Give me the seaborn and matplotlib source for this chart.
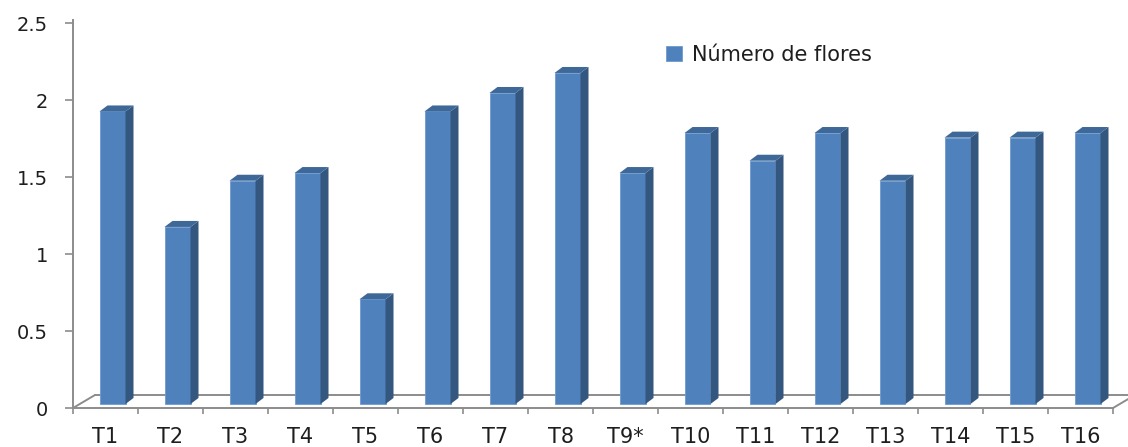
import matplotlib
matplotlib.use("Agg")
import matplotlib.pyplot as plt
import seaborn as sns
import pandas as pd
from matplotlib.patches import Polygon
from matplotlib.lines import Line2D
from matplotlib.transforms import ScaledTranslation, IdentityTransform

# Data
tratamientos = ["T1", "T2", "T3", "T4", "T5", "T6", "T7", "T8",
                "T9*", "T10", "T11", "T12", "T13", "T14", "T15", "T16"]
numero_flores = [1.90, 1.15, 1.45, 1.50, 0.68, 1.90, 2.02, 2.15,
                 1.50, 1.76, 1.58, 1.76, 1.45, 1.73, 1.73, 1.76]
serie = "Número de flores"
y_ticks = [0, 0.5, 1, 1.5, 2, 2.5]

# Styling
FRONT = "#4F81BD"
SIDE = "#34577F"
TOP = "#3E6898"
AXIS_GREY = "#8C8C8C"
TEXT = "#1E1E1E"

sns.set_theme(style="white")
plt.rcParams["font.family"] = ["DejaVu Sans"]

W, H, DPI = 1128, 447, 100
fig = plt.figure(figsize=(W / DPI, H / DPI), dpi=DPI)
fig.patch.set_facecolor("white")
ax = fig.add_axes([73 / W, 1 - 408 / H, (1113 - 73) / W, (408 - 20) / H])

df = pd.DataFrame({"Tratamiento": tratamientos,
                   "Flores": numero_flores,
                   "Serie": serie})
sns.barplot(data=df, x="Tratamiento", y="Flores", hue="Serie",
            palette=[FRONT], saturation=1, width=0.4, ax=ax,
            linewidth=0.6, edgecolor="#6E9AD0", zorder=2)

ax.set_xlim(-0.5, len(tratamientos) - 0.5)
ax.set_ylim(0, 2.52)
ax.set_xlabel("")
ax.set_ylabel("")

# Bars stand in the middle of the floor depth: shift front faces back/up
shift = ScaledTranslation(7 / DPI, 4 / DPI, fig.dpi_scale_trans)
depth_dx, depth_dy = 8, 6
bars = list(ax.containers[0])
for bar in bars:
    bar.set_transform(ax.transData + shift)
    bar.set_clip_on(False)

fig.canvas.draw()
for bar in bars:
    bb = bar.get_window_extent()
    x0, y0, x1, y1 = bb.x0, bb.y0, bb.x1, bb.y1
    side = Polygon([(x1, y0), (x1 + depth_dx, y0 + depth_dy),
                    (x1 + depth_dx, y1 + depth_dy), (x1, y1)],
                   closed=True, facecolor=SIDE, edgecolor="none",
                   transform=IdentityTransform(), clip_on=False, zorder=2)
    top = Polygon([(x0, y1), (x1, y1), (x1 + depth_dx, y1 + depth_dy),
                   (x0 + depth_dx, y1 + depth_dy)],
                  closed=True, facecolor=TOP, edgecolor="none",
                  transform=IdentityTransform(), clip_on=False, zorder=2)
    ax.add_artist(side)
    ax.add_artist(top)

# Floor outline (3D base plane), drawn behind the bars
ab = ax.get_window_extent()
fdx, fdy = 22, 13
floor_lines = [
    [(ab.x0, ab.y0), (ab.x0 + fdx, ab.y0 + fdy)],
    [(ab.x0 + fdx, ab.y0 + fdy), (ab.x1 + fdx, ab.y0 + fdy)],
    [(ab.x1, ab.y0), (ab.x1 + fdx, ab.y0 + fdy)],
]
for seg in floor_lines:
    (xa, ya), (xb, yb) = seg
    ln = Line2D([xa, xb], [ya, yb], color=AXIS_GREY, linewidth=1.4,
                transform=IdentityTransform(), clip_on=False, zorder=0.5)
    ax.add_artist(ln)

# Spines
for s in ["top", "right"]:
    ax.spines[s].set_visible(False)
for s in ["left", "bottom"]:
    ax.spines[s].set_color(AXIS_GREY)
    ax.spines[s].set_linewidth(1.4)

# Y axis ticks
ax.set_yticks(y_ticks)
ax.set_yticklabels([f"{v:g}" for v in y_ticks])
ax.tick_params(axis="y", left=True, length=6, width=1.2, color=AXIS_GREY,
               direction="out", pad=12, labelsize=14, labelcolor=TEXT)

# X axis: labels at category centres, ticks at category boundaries
ax.set_xticks(range(len(tratamientos)))
ax.set_xticklabels(tratamientos)
ax.set_xticks([i - 0.5 for i in range(len(tratamientos) + 1)], minor=True)
ax.tick_params(axis="x", which="major", bottom=True, length=0, pad=14,
               labelsize=15, labelcolor=TEXT)
ax.tick_params(axis="x", which="minor", bottom=True, length=4.5, width=1.2,
               color=AXIS_GREY, direction="out")

# Legend
handles, labels = ax.get_legend_handles_labels()
ax.legend(handles, labels, loc="upper left",
          bbox_to_anchor=(666 / W, 1 - 45 / H), bbox_transform=fig.transFigure,
          frameon=False, fontsize=15, handlelength=0.75, handleheight=0.75,
          handletextpad=0.5, borderpad=0, borderaxespad=0, labelcolor=TEXT)

fig.savefig("out.png", dpi=DPI, facecolor="white")
